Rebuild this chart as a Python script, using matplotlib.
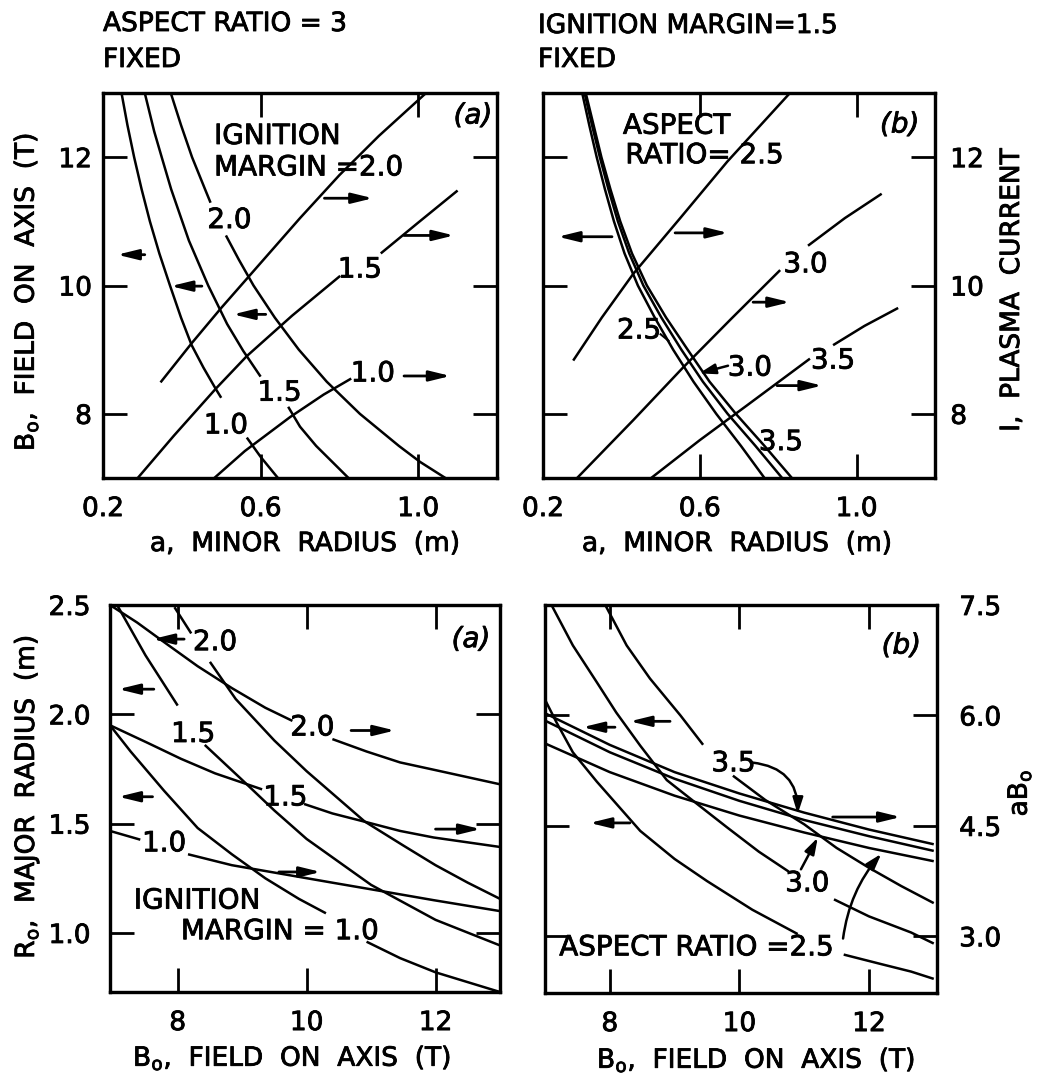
import numpy as np
import matplotlib
matplotlib.use("Agg")
import matplotlib.pyplot as plt
from matplotlib import patheffects

plt.rcParams["font.family"] = ["DejaVu Sans"]
plt.rcParams["mathtext.fontset"] = "dejavusans"

nan = np.nan

# ---------------- upper left: aspect ratio fixed at 3 ----------------
# field on axis B0 (T) against minor radius a (m), one curve per ignition margin
tl_a_b0_m10 = [0.247, 0.262, 0.279, 0.298, 0.319, 0.343, 0.370, 0.398, 0.425, 0.455, 0.486, 0.50,
               nan, 0.565, 0.60, 0.644]
tl_b0_m10 = [13.0, 12.5, 12.0, 11.5, 11.0, 10.5, 10.0, 9.5, 9.07, 8.72, 8.39, 8.25,
             nan, 7.63, 7.33, 7.0]
tl_a_b0_m15 = [0.306, 0.330, 0.349, 0.373, 0.418, 0.467, 0.515, 0.556, 0.60, nan,
               0.67, 0.70, 0.741, 0.787, 0.828]
tl_b0_m15 = [13.0, 12.4, 12.0, 11.5, 10.7, 10.0, 9.4, 8.98, 8.58, nan,
             8.11, 7.8, 7.5, 7.22, 6.97]
tl_a_b0_m20 = [0.372, 0.398, 0.426, 0.459, 0.473, nan, 0.512, 0.545, 0.582, 0.636, 0.697,
               0.768, 0.852, 0.951, 1.005, 1.069]
tl_b0_m20 = [13.0, 12.5, 12.0, 11.5, 11.29, nan, 10.78, 10.4, 10.0, 9.5, 9.0,
             8.5, 8.0, 7.5, 7.25, 7.0]
# plasma current I against minor radius a
tl_a_i_m10 = [0.477, 0.56, 0.675, 0.76, 0.83]
tl_i_m10 = [6.97, 7.42, 7.95, 8.3, 8.55]
tl_a_i_m15 = [0.284, 0.38, 0.486, 0.565, 0.68, 0.802, nan, 0.905, 1.0, 1.1]
tl_i_m15 = [6.97, 7.66, 8.39, 8.9, 9.53, 10.15, nan, 10.5, 10.98, 11.48]
tl_a_i_m20 = [0.346, 0.425, 0.50, 0.60, 0.70, 0.80, 0.90, 1.02]
tl_i_m20 = [8.49, 9.1, 9.65, 10.35, 11.05, 11.72, 12.33, 13.0]

# ---------------- upper right: ignition margin fixed at 1.5 ----------------
tr_b0_levels = [13.0, 12.5, 12.0, 11.5, 11.0, 10.5, 10.0, 9.5, 9.0, 8.5, 8.0, 7.5, 7.0]
tr_a_b0_r25 = [0.300, 0.318, 0.337, 0.358, 0.381, 0.408, 0.442, 0.485, 0.532, 0.584, 0.642, 0.705, 0.765]
tr_a_b0_r30 = [0.306, 0.325, 0.345, 0.367, 0.391, 0.420, 0.456, 0.502, 0.553, 0.608, 0.671, 0.742, 0.810]
tr_a_b0_r35 = [0.309, 0.329, 0.349, 0.372, 0.397, 0.427, 0.465, 0.514, 0.569, 0.625, 0.692, 0.765, 0.835]
tr_a_i_r25 = [0.277, 0.35, 0.43, 0.55, 0.67, 0.83]
tr_i_r25 = [8.83, 9.5, 10.18, 11.05, 11.93, 13.0]
tr_a_i_r30 = [0.287, 0.43, 0.557, 0.68, 0.805, nan, 0.876, 0.97, 1.064]
tr_i_r30 = [7.0, 7.9, 8.72, 9.48, 10.24, nan, 10.62, 11.05, 11.43]
tr_a_i_r35 = [0.476, 0.60, 0.72, 0.881, nan, 0.94, 1.02, 1.106]
tr_i_r35 = [7.0, 7.59, 8.13, 8.86, nan, 9.07, 9.37, 9.65]

# ---------------- lower left: major radius and aB0 against B0 ----------------
bl_b_r0_m20 = [7.95, 8.21, nan, 8.5, 8.9, 9.5, 10.0, 10.9, 11.5, 12.0, 12.5, 13.0]
bl_r0_m20 = [2.49, 2.37, nan, 2.24, 2.07, 1.88, 1.74, 1.51, 1.40, 1.31, 1.23, 1.156]
bl_b_r0_m15 = [7.06, 7.5, 8.0, nan, 8.42, 9.0, 9.5, 10.0, 11.0, 12.0, 13.0]
bl_r0_m15 = [2.5, 2.27, 2.04, nan, 1.86, 1.70, 1.56, 1.43, 1.22, 1.06, 0.943]
bl_b_r0_m10 = [6.95, 7.27, 7.79, 8.31, 8.84, 9.36, 9.88, 10.3, nan, 10.93, 11.45, 12.0, 12.5, 13.0]
bl_r0_m10 = [1.95, 1.83, 1.65, 1.48, 1.36, 1.25, 1.156, 1.09, nan, 0.96, 0.885, 0.82, 0.775, 0.73]
bl_b_ab0_m20 = [6.95, 7.37, 7.79, 8.31, 8.84, 9.36, 9.78, nan, 10.4, 10.93, 11.45, 11.97, 13.0]
bl_ab0_m20 = [7.5, 7.26, 6.99, 6.66, 6.36, 6.09, 5.91, nan, 5.66, 5.49, 5.34, 5.24, 5.04]
bl_b_ab0_m15 = [6.95, 7.53, 8.05, 8.58, 9.31, nan, 9.96, 10.4, 10.93, 11.45, 11.97, 13.0]
bl_ab0_m15 = [5.85, 5.61, 5.39, 5.19, 4.97, nan, 4.77, 4.64, 4.52, 4.40, 4.31, 4.18]
bl_b_ab0_m10 = [6.95, 7.42, nan, 8.16, 8.84, 9.62, 10.4, 11.19, 11.97, 13.0]
bl_ab0_m10 = [4.40, 4.28, nan, 4.08, 3.93, 3.81, 3.69, 3.57, 3.45, 3.30]

# ---------------- lower right: aspect ratio varied ----------------
br_b_r0_r35 = [7.93, 8.26, 8.62, 9.09, 9.44, nan, 9.9, 10.4, 11.0, 11.5, 12.0, 12.5, 13.0]
br_r0_r35 = [2.5, 2.317, 2.167, 2.0, 1.867, nan, 1.727, 1.617, 1.507, 1.40, 1.31, 1.227, 1.15]
br_b_r0_r30 = [7.1, 7.43, 7.8, 8.1, 8.47, 8.88, 9.3, 9.81, 10.3, 10.76, nan, 11.46, 12.0, 12.65, 13.0]
br_r0_r30 = [2.5, 2.317, 2.15, 2.013, 1.863, 1.707, 1.61, 1.493, 1.383, 1.293, nan, 1.167, 1.09, 1.017, 0.967]
br_b_r0_r25 = [6.99, 7.18, 7.43, 7.8, 8.47, 9.0, 9.5, 10.2, 10.9, nan, 11.61, 12.2, 12.65, 13.0]
br_r0_r25 = [2.077, 1.967, 1.833, 1.70, 1.477, 1.35, 1.25, 1.12, 1.01, nan, 0.917, 0.873, 0.84, 0.807]
br_b_ab0 = [7, 8, 9, 10, 11, 12, 13]
br_ab0_r35 = [6.03, 5.6, 5.23, 4.94, 4.68, 4.45, 4.25]
br_ab0_r30 = [5.93, 5.5, 5.14, 4.84, 4.58, 4.36, 4.16]
br_ab0_r25 = [5.62, 5.23, 4.91, 4.64, 4.41, 4.2, 4.02]

a_ticks = [0.2, 0.6, 1.0]
b_ticks = [8, 10, 12]
r0_ticks = [1.0, 1.5, 2.0, 2.5]
ab0_ticks = [3.0, 4.5, 6.0, 7.5]

W, H = 1042, 1080
fig = plt.figure(figsize=(W / 100, H / 100), dpi=100)
fig.patch.set_facecolor("white")

LW = 1.8
FS = 20     # lettering inside the panels
TFS = 19    # headings and axis titles
PE = [patheffects.withStroke(linewidth=0.6, foreground="black")]
TICK = dict(direction="in", length=17, width=2.0, labelsize=19)


def box(x0, y0, x1, y1):
    return [x0 / W, 1 - y1 / H, (x1 - x0) / W, (y1 - y0) / H]


def ftext(x, y, s, **kw):
    fig.text(x / W, 1 - y / H, s, path_effects=PE, **kw)


def frame(ax):
    for sp in ax.spines.values():
        sp.set_linewidth(2.3)
    for lbl in ax.get_xticklabels() + ax.get_yticklabels():
        lbl.set_path_effects(PE)


def curve(ax, x, y):
    ax.plot(x, y, color="black", lw=LW, solid_capstyle="butt")


def arrow(ax, x0, x1, y):
    ax.annotate("", xy=(x1, y), xytext=(x0, y),
                arrowprops=dict(arrowstyle="-|>,head_length=0.9,head_width=0.22",
                                lw=2.0, color="black", shrinkA=0, shrinkB=0,
                                mutation_scale=14))


def pointer(ax, tail, head, rad=0.0):
    ax.annotate("", xy=head, xytext=tail,
                arrowprops=dict(arrowstyle="-|>,head_length=0.7,head_width=0.22",
                                lw=1.8, color="black", shrinkA=0, shrinkB=0,
                                mutation_scale=14,
                                connectionstyle=f"arc3,rad={rad}"))


def label(ax, x, y, s, ha="center", **kw):
    ax.text(x, y, s, fontsize=FS, ha=ha, va="center", color="black",
            path_effects=PE, **kw)


# ======================= upper left =======================
ax = fig.add_axes(box(103, 93, 497, 478))
ax.set_xlim(0.2, 1.2)
ax.set_ylim(7, 13)
ax.set_xticks(a_ticks)
ax.set_xticklabels(["0.2", "0.6", "1.0"])
ax.set_yticks(b_ticks)
ax.tick_params(axis="x", top=True, labeltop=False, pad=13, **TICK)
ax.tick_params(axis="y", right=False, pad=8, **TICK)
tw = ax.twinx()
tw.set_ylim(7, 13)
tw.set_yticks(b_ticks)
tw.tick_params(axis="y", labelright=False, **TICK)
frame(ax); frame(tw)

curve(ax, tl_a_b0_m10, tl_b0_m10)
curve(ax, tl_a_b0_m15, tl_b0_m15)
curve(ax, tl_a_b0_m20, tl_b0_m20)
curve(tw, tl_a_i_m10, tl_i_m10)
curve(tw, tl_a_i_m15, tl_i_m15)
curve(tw, tl_a_i_m20, tl_i_m20)

label(tw, 0.482, 12.33, "IGNITION", ha="left")
label(tw, 0.482, 11.84, "MARGIN =2.0", ha="left")
label(tw, 0.521, 11.02, "2.0")
label(tw, 0.648, 8.33, "1.5")
label(tw, 0.512, 7.82, "1.0")
label(tw, 0.852, 10.25, "1.5")
label(tw, 0.885, 8.63, "1.0")
label(tw, 1.139, 12.65, "(a)", style="italic")
arrow(tw, 0.306, 0.236, 10.48)
arrow(tw, 0.451, 0.372, 9.99)
arrow(tw, 0.613, 0.530, 9.55)
arrow(tw, 0.762, 0.885, 11.36)
arrow(tw, 0.964, 1.091, 10.78)
arrow(tw, 0.964, 1.082, 8.59)

# ======================= upper right =======================
ax = fig.add_axes(box(543, 93, 935, 478))
ax.set_xlim(0.2, 1.2)
ax.set_ylim(7, 13)
ax.set_xticks(a_ticks)
ax.set_xticklabels(["0.2", "0.6", "1.0"])
ax.set_yticks(b_ticks)
ax.tick_params(axis="x", top=True, labeltop=False, pad=13, **TICK)
ax.tick_params(axis="y", labelleft=False, right=False, **TICK)
tw = ax.twinx()
tw.set_ylim(7, 13)
tw.set_yticks(b_ticks)
tw.tick_params(axis="y", pad=11, **TICK)
frame(ax); frame(tw)

curve(ax, tr_a_b0_r25, tr_b0_levels)
curve(ax, tr_a_b0_r30, tr_b0_levels)
curve(ax, tr_a_b0_r35, tr_b0_levels)
curve(tw, tr_a_i_r25, tr_i_r25)
curve(tw, tr_a_i_r30, tr_i_r30)
curve(tw, tr_a_i_r35, tr_i_r35)

label(tw, 0.404, 12.49, "ASPECT", ha="left")
label(tw, 0.41, 12.03, "RATIO= 2.5", ha="left")
label(tw, 1.11, 12.51, "(b)", style="italic")
label(tw, 0.445, 9.3, "2.5")
tw.plot([0.50, 0.52], [9.24, 9.14], color="black", lw=1.5)
label(tw, 0.728, 8.72, "3.0")
pointer(tw, (0.672, 8.75), (0.598, 8.63))
label(tw, 0.807, 7.56, "3.5")
label(tw, 0.87, 10.33, "3.0")
label(tw, 0.94, 8.83, "3.5")
arrow(tw, 0.376, 0.238, 10.76)
arrow(tw, 0.537, 0.672, 10.82)
arrow(tw, 0.736, 0.83, 9.74)
arrow(tw, 0.797, 0.912, 8.44)

# ======================= lower left =======================
ax = fig.add_axes(box(110, 605, 500, 992))
ax.set_xlim(6.95, 13.0)
ax.set_ylim(0.73, 2.5)
ax.set_xticks(b_ticks)
ax.set_yticks(r0_ticks)
ax.set_yticklabels(["1.0", "1.5", "2.0", "2.5"])
ax.tick_params(axis="x", top=True, labeltop=False, pad=13, **TICK)
ax.tick_params(axis="y", right=False, pad=14, **TICK)
tw = ax.twinx()
tw.set_ylim(2.19, 7.5)
tw.set_yticks(ab0_ticks)
tw.tick_params(axis="y", labelright=False, **TICK)
frame(ax); frame(tw)

curve(ax, bl_b_r0_m20, bl_r0_m20)
curve(ax, bl_b_r0_m15, bl_r0_m15)
curve(ax, bl_b_r0_m10, bl_r0_m10)
curve(tw, bl_b_ab0_m20, bl_ab0_m20)
curve(tw, bl_b_ab0_m15, bl_ab0_m15)
curve(tw, bl_b_ab0_m10, bl_ab0_m10)

label(ax, 8.58, 2.33, "2.0")
label(ax, 10.09, 1.94, "2.0")
label(ax, 8.24, 1.91, "1.5")
label(ax, 9.67, 1.62, "1.5")
label(ax, 7.79, 1.41, "1.0")
label(ax, 7.32, 1.148, "IGNITION", ha="left")
label(ax, 8.05, 1.008, "MARGIN = 1.0", ha="left")
label(ax, 12.55, 2.344, "(a)", style="italic")
arrow(ax, 8.1, 7.61, 2.344)
arrow(ax, 7.63, 7.08, 2.115)
arrow(ax, 7.61, 7.08, 1.623)
arrow(ax, 10.69, 11.37, 1.926)
arrow(ax, 12.0, 12.7, 1.475)
arrow(ax, 9.57, 10.22, 1.279)

# ======================= lower right =======================
ax = fig.add_axes(box(545, 605, 937, 993))
ax.set_xlim(7.0, 13.05)
ax.set_ylim(0.743, 2.5)
ax.set_xticks(b_ticks)
ax.set_yticks(r0_ticks)
ax.tick_params(axis="x", top=True, labeltop=False, pad=13, **TICK)
ax.tick_params(axis="y", labelleft=False, right=False, **TICK)
tw = ax.twinx()
tw.set_ylim(2.23, 7.5)
tw.set_yticks(ab0_ticks)
tw.set_yticklabels(["3.0", "4.5", "6.0", "7.5"])
tw.tick_params(axis="y", pad=16, **TICK)
frame(ax); frame(tw)

curve(ax, br_b_r0_r35, br_r0_r35)
curve(ax, br_b_r0_r30, br_r0_r30)
curve(ax, br_b_r0_r25, br_r0_r25)
curve(tw, br_b_ab0, br_ab0_r35)
curve(tw, br_b_ab0, br_ab0_r30)
curve(tw, br_b_ab0, br_ab0_r25)

label(tw, 9.91, 5.35, "3.5")
label(tw, 11.05, 3.72, "3.0")
label(tw, 7.22, 2.85, "ASPECT RATIO =2.5", ha="left")
label(tw, 12.5, 6.95, "(b)", style="italic")
pointer(tw, (10.2, 5.36), (10.9, 4.66), rad=-0.45)
pointer(tw, (10.95, 3.91), (11.21, 4.34))
pointer(tw, (11.6, 2.97), (12.19, 4.12), rad=-0.15)
arrow(tw, 8.08, 7.58, 5.84)
arrow(tw, 8.93, 8.31, 5.92)
arrow(tw, 8.31, 7.69, 4.54)
arrow(tw, 11.44, 12.49, 4.62)

# ======================= headings and axis titles =======================
ftext(103, 24, "ASPECT RATIO = 3", fontsize=TFS, ha="left", va="center")
ftext(103, 60, "FIXED", fontsize=TFS, ha="left", va="center")
ftext(538, 26, "IGNITION MARGIN=1.5", fontsize=TFS, ha="left", va="center")
ftext(538, 60, "FIXED", fontsize=TFS, ha="left", va="center")

ftext(305, 544, "a,  MINOR  RADIUS  (m)", fontsize=TFS, ha="center", va="center")
ftext(737, 544, "a,  MINOR  RADIUS  (m)", fontsize=TFS, ha="center", va="center")
ftext(26, 292, r"B$_{\mathregular{o}}$,  FIELD  ON  AXIS  (T)", fontsize=TFS,
      ha="center", va="center", rotation=90)
ftext(1012, 290, "I,  PLASMA  CURRENT", fontsize=TFS, ha="center", va="center",
      rotation=90)
ftext(292, 1058, r"B$_{\mathregular{o}}$,  FIELD  ON  AXIS  (T)", fontsize=TFS,
      ha="center", va="center")
ftext(756, 1060, r"B$_{\mathregular{o}}$,  FIELD  ON  AXIS  (T)", fontsize=TFS,
      ha="center", va="center")
ftext(27, 797, r"R$_{\mathregular{o}}$,  MAJOR  RADIUS  (m)", fontsize=TFS,
      ha="center", va="center", rotation=90)
ftext(1019, 793, r"aB$_{\mathregular{o}}$", fontsize=TFS, ha="center",
      va="center", rotation=90)

fig.savefig("out.png", dpi=100, facecolor="white")
